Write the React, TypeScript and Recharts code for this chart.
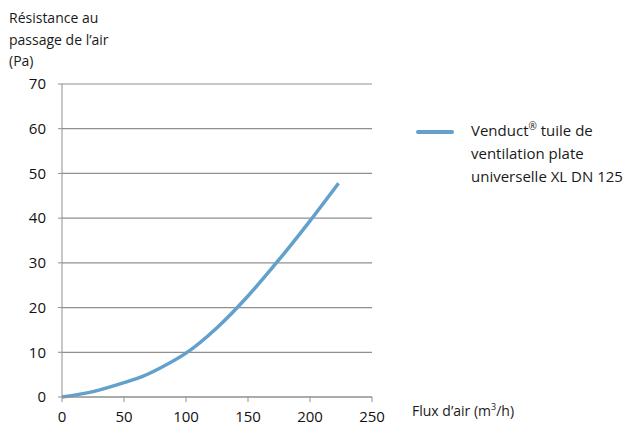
import React from 'react';
import { LineChart, Line, XAxis, YAxis, CartesianGrid } from 'recharts';

const flow = [0, 25, 50, 65, 80, 100, 125, 150, 175, 200, 223];
const resistance = [0, 1.2, 3.2, 4.6, 6.6, 9.8, 15.5, 22.6, 30.7, 39.4, 47.8];
const xTicks = [0, 50, 100, 150, 200, 250];
const yTicks = [0, 10, 20, 30, 40, 50, 60, 70];
const seriesName = ['Venduct® tuile de', 'ventilation plate', 'universelle XL DN 125'];
const yTitle = ['Résistance au', 'passage de l’air', '(Pa)'];

const data = flow.map((f, i) => ({ flow: f, res: resistance[i] }));

const FONT = '"Open Sans", "Noto Sans", sans-serif';
const LINE = '#63a0cc';
const GRID = '#8f8f8f';

const renderName = (s: string) => {
  const parts = s.split('®');
  if (parts.length === 1) return s;
  return (
    <>
      {parts[0]}
      <sup style={{ fontSize: 10, lineHeight: 0 }}>®</sup>
      {parts[1]}
    </>
  );
};

export default function App() {
  return (
    <div style={{ position: 'absolute', left: 0, top: 0, width: 634, height: 426, background: '#fff' }}>
      <div style={{ position: 'absolute', left: 9, top: 7, fontFamily: FONT, fontSize: 14, lineHeight: '21.5px', color: '#1a1a1a' }}>
        {yTitle.map((t, i) => <div key={i}>{t}</div>)}
      </div>
      <div style={{ position: 'absolute', left: 412, top: 401, fontFamily: FONT, fontSize: 14, color: '#1a1a1a' }}>
        Flux d’air (m<sup style={{ fontSize: 9, lineHeight: 0 }}>3</sup>/h)
      </div>
      <div style={{ position: 'absolute', left: 416, top: 119, display: 'flex', alignItems: 'flex-start', fontFamily: FONT, fontSize: 15, color: '#1a1a1a' }}>
        <div style={{ width: 38, height: 4, background: LINE, borderRadius: 2, marginTop: 11, marginRight: 17 }} />
        <div style={{ lineHeight: '23px' }}>
          {seriesName.map((s, i) => <div key={i}>{renderName(s)}</div>)}
        </div>
      </div>
      <LineChart width={634} height={426} data={data} margin={{ top: 84, right: 262, bottom: 0, left: 0 }}>
        <CartesianGrid vertical={false} stroke={GRID} strokeWidth={1.2} />
        <XAxis
          dataKey="flow"
          type="number"
          domain={[0, 250]}
          ticks={xTicks}
          height={29}
          stroke={GRID}
          tickSize={5}
          tickMargin={9}
          tick={{ fill: '#111', fontSize: 15, fontFamily: FONT }}
        />
        <YAxis
          type="number"
          domain={[0, 70]}
          ticks={yTicks}
          width={62}
          stroke={GRID}
          tickSize={4}
          tickMargin={12}
          tick={{ fill: '#111', fontSize: 15, fontFamily: FONT }}
        />
        <Line
          type="monotone"
          dataKey="res"
          name={seriesName.join(' ')}
          stroke={LINE}
          strokeWidth={3.5}
          dot={false}
          isAnimationActive={false}
        />
      </LineChart>
    </div>
  );
}
